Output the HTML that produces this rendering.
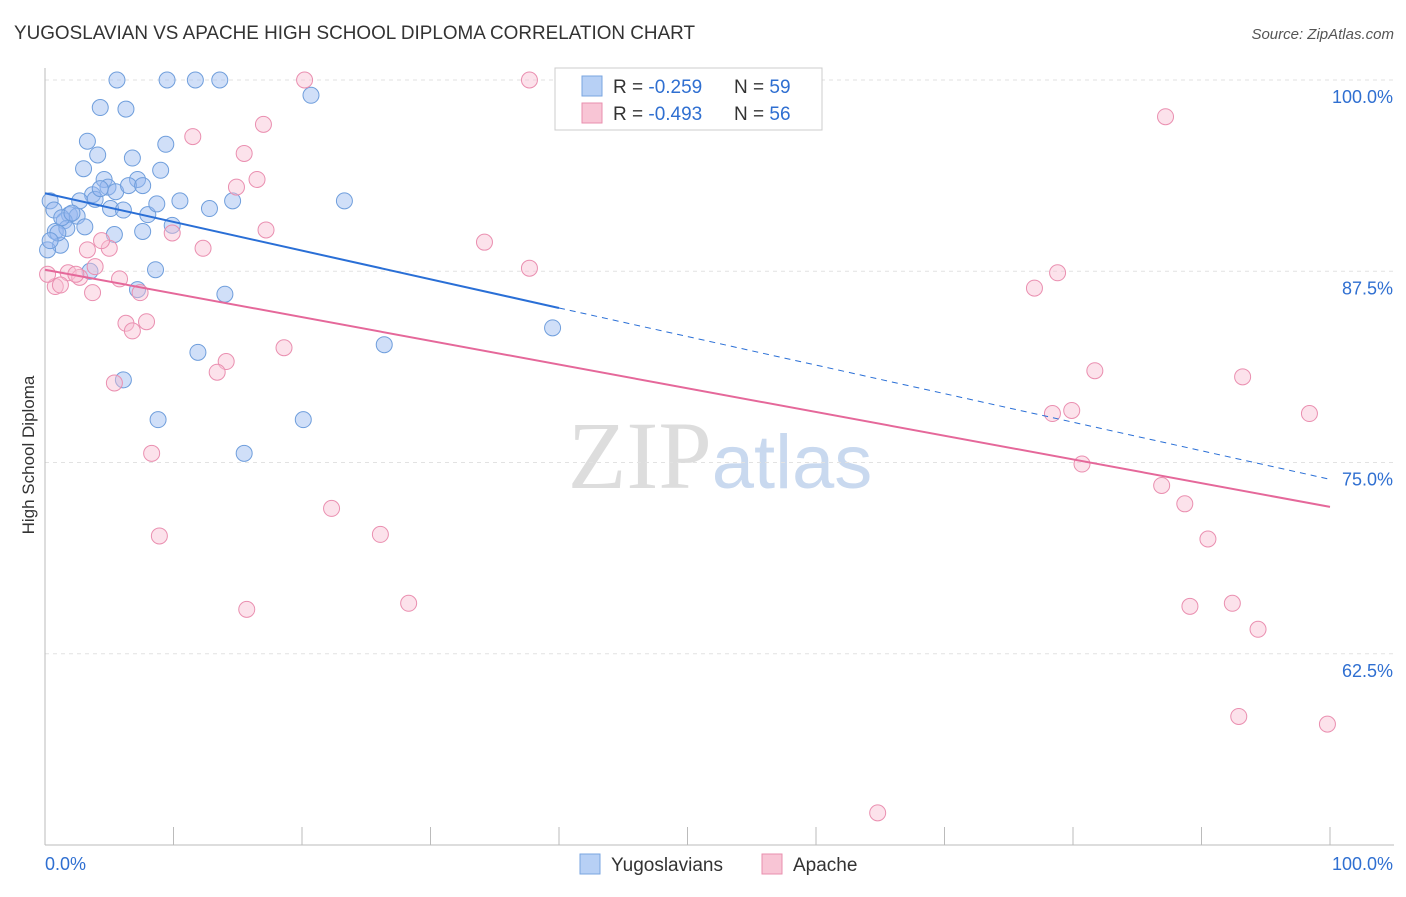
<!DOCTYPE html>
<html><head><meta charset="utf-8"><style>
body{margin:0;background:#fff;font-family:"Liberation Sans",sans-serif;}
</style></head><body>
<svg id="chart" width="1406" height="892" xmlns="http://www.w3.org/2000/svg" font-family="Liberation Sans, sans-serif">
<text x="14" y="39" font-size="19" fill="#333" textLength="681" lengthAdjust="spacingAndGlyphs">YUGOSLAVIAN VS APACHE HIGH SCHOOL DIPLOMA CORRELATION CHART</text>
<text x="1394" y="39" font-size="15" fill="#555" text-anchor="end" font-style="italic">Source: ZipAtlas.com</text>
<text x="720" y="488" font-size="96" text-anchor="middle"><tspan fill="#ddd" font-family="Liberation Serif, serif">ZIP</tspan><tspan fill="#c9d9ef" font-size="76">atlas</tspan></text>
<g id="grid"></g><g id="axes"></g><g id="pts"></g><g id="lines"></g>
<text transform="translate(34,455) rotate(-90)" font-size="17" fill="#333" text-anchor="middle">High School Diploma</text>
<g>
<rect x="555" y="68" width="267" height="62" fill="#fff" stroke="#ccc"/>
<rect x="582" y="76" width="20" height="20" fill="#b7d0f5" stroke="#7aa6e0"/>
<rect x="582" y="103" width="20" height="20" fill="#f8c5d5" stroke="#e98fae"/>
<text x="613" y="93" font-size="19" fill="#333">R = <tspan fill="#2f6fd1">-0.259</tspan></text>
<text x="734" y="93" font-size="19" fill="#333">N = <tspan fill="#2f6fd1">59</tspan></text>
<text x="613" y="120" font-size="19" fill="#333">R = <tspan fill="#2f6fd1">-0.493</tspan></text>
<text x="734" y="120" font-size="19" fill="#333">N = <tspan fill="#2f6fd1">56</tspan></text>
</g>
<g>
<rect x="580" y="854" width="20" height="20" fill="#b7d0f5" stroke="#7aa6e0"/>
<text x="611" y="871" font-size="19" fill="#333">Yugoslavians</text>
<rect x="762" y="854" width="20" height="20" fill="#f8c5d5" stroke="#e98fae"/>
<text x="793" y="871" font-size="19" fill="#333">Apache</text>
</g>
</svg>
<script>
const yTicks=[100,87.5,75,62.5];
const yTickLabels=["100.0%","87.5%","75.0%","62.5%"];
const blueX=[5.6,9.5,11.7,13.6,20.7,4.3,6.3,3.3,9.4,4.1,6.8,3,9,4.6,7.2,3.7,4.9,5.5,6.5,7.6,0.4,0.7,2.7,3.9,5.1,6.1,8,8.7,10.5,12.8,14.6,23.3,1.9,2.5,1.5,0.8,1.7,3.1,9.9,7.6,5.4,1.2,0.2,3.5,8.6,7.2,14,39.5,26.4,11.9,6.1,8.8,20.1,15.5,1.3,2.1,1,0.4,4.3];
const blueY=[100,100,100,100,99,98.2,98.1,96,95.8,95.1,94.9,94.2,94.1,93.5,93.5,92.5,93,92.7,93.1,93.1,92.1,91.5,92.1,92.2,91.6,91.5,91.2,91.9,92.1,91.6,92.1,92.1,91.2,91.1,90.8,90.1,90.3,90.4,90.5,90.1,89.9,89.2,88.9,87.5,87.6,86.3,86,83.8,82.7,82.2,80.4,77.8,77.8,75.6,91,91.3,90,89.5,92.9];
const pinkX=[20.2,37.7,87.2,11.5,17,15.5,14.9,16.5,17.2,9.9,12.3,5,4.4,3.3,34.2,37.7,78.8,77,0.8,1.8,2.7,3.7,5.8,7.4,6.3,6.8,7.9,14.1,13.4,18.6,5.4,81.7,93.2,98.4,78.4,79.9,8.3,80.7,86.9,88.7,22.3,26.1,90.5,8.9,15.7,28.3,89.1,92.4,94.4,92.9,99.8,64.8,0.2,1.2,2.4,3.9];
const pinkY=[100,100,97.6,96.3,97.1,95.2,93,93.5,90.2,90,89,89,89.5,88.9,89.4,87.7,87.4,86.4,86.5,87.4,87.1,86.1,87,86.1,84.1,83.6,84.2,81.6,80.9,82.5,80.2,81,80.6,78.2,78.2,78.4,75.6,74.9,73.5,72.3,72,70.3,70,70.2,65.4,65.8,65.6,65.8,64.1,58.4,57.9,52.1,87.3,86.6,87.3,87.8];
const blueLine=[0,92.6,40,85.1];
const blueDash=[40,85.1,100,73.9];
const pinkLine=[0,87.6,100,72.1];
const X0=45,X1=1330,Y0=80,Y1=845;
const sx=v=>X0+(v/100)*(X1-X0);
const sy=v=>Y0+(100-v)/50*(Y1-Y0);
const NS="http://www.w3.org/2000/svg";
function mk(tag,attrs,parent){const e=document.createElementNS(NS,tag);for(const k in attrs)e.setAttribute(k,attrs[k]);document.getElementById(parent).appendChild(e);return e;}
yTicks.forEach((t,i)=>{
 const l=mk('line',{x1:X0,x2:1394,y1:sy(t),y2:sy(t),stroke:'#e2e2e2','stroke-dasharray':'4,4'},'grid');
 
 
 const tx=mk('text',{x:1393,y:sy(t)+23,'font-size':18,fill:'#2f6fd1','text-anchor':'end'},'grid');
 tx.textContent=yTickLabels[i];
 
 
});
let a=mk('line',{x1:X0,x2:X0,y1:68,y2:Y1,stroke:'#bbb'},'axes');


a=mk('line',{x1:X0,x2:1394,y1:Y1,y2:Y1,stroke:'#bbb'},'axes');


for(let i=0;i<=10;i++){const t=mk('line',{x1:sx(i*10),x2:sx(i*10),y1:Y1,y2:Y1-18,stroke:'#bbb'},'axes');
 
 }
let xl=mk('text',{x:45,y:870,'font-size':18,fill:'#2f6fd1'},'axes');xl.textContent='0.0%';


xl=mk('text',{x:1393,y:870,'font-size':18,fill:'#2f6fd1','text-anchor':'end'},'axes');xl.textContent='100.0%';


blueX.forEach((v,i)=>{const c=mk('circle',{cx:sx(v),cy:sy(blueY[i]),r:8,fill:'rgba(150,185,240,0.45)',stroke:'#6f9edc','stroke-width':1},'pts');
 
 });
pinkX.forEach((v,i)=>{const c=mk('circle',{cx:sx(v),cy:sy(pinkY[i]),r:8,fill:'rgba(248,190,210,0.45)',stroke:'#ea8fb0','stroke-width':1},'pts');
 
 });
let ln=mk('line',{x1:sx(blueLine[0]),y1:sy(blueLine[1]),x2:sx(blueLine[2]),y2:sy(blueLine[3]),stroke:'#2a6fd6','stroke-width':2},'lines');


ln=mk('line',{x1:sx(blueDash[0]),y1:sy(blueDash[1]),x2:sx(blueDash[2]),y2:sy(blueDash[3]),stroke:'#2a6fd6','stroke-width':1,'stroke-dasharray':'6,5'},'lines');


ln=mk('line',{x1:sx(pinkLine[0]),y1:sy(pinkLine[1]),x2:sx(pinkLine[2]),y2:sy(pinkLine[3]),stroke:'#e5689a','stroke-width':2},'lines');


</script>
</body></html>
